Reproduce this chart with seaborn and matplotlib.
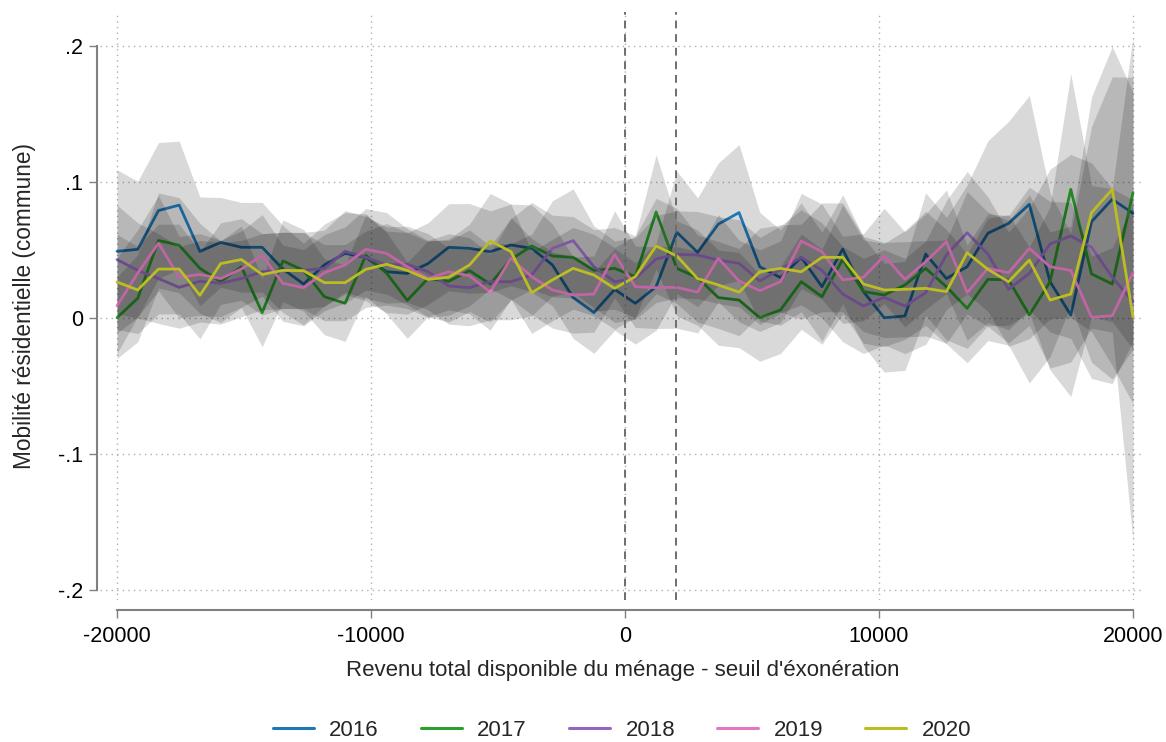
import numpy as np
import pandas as pd
import matplotlib
matplotlib.use("Agg")
import matplotlib.pyplot as plt
import seaborn as sns
from matplotlib.lines import Line2D

# ---------------- data ----------------
x_min, x_max, n_bins = -20000, 20000, 50
years = ["2016", "2017", "2018", "2019", "2020"]
colors = ["#1f77b4", "#2ca02c", "#9467bd", "#e377c2", "#bcbd22"]

y2016 = [0.049, 0.0505, 0.079, 0.083, 0.049, 0.0556, 0.052, 0.052, 0.036, 0.025,
         0.039, 0.0475, 0.0446, 0.034, 0.0328, 0.040, 0.052, 0.0512, 0.0488, 0.0537,
         0.0512, 0.039, 0.015, 0.004, 0.021, 0.0108, 0.023, 0.063, 0.0483, 0.069,
         0.0775, 0.0377, 0.0297, 0.0446, 0.023, 0.0507, 0.0194, 0.0002, 0.0015, 0.047,
         0.029, 0.0377, 0.0623, 0.0696, 0.0836, 0.0267, 0.0022, 0.0708, 0.0873, 0.077]
y2017 = [0.0002, 0.0145, 0.057, 0.0535, 0.0365, 0.0267, 0.0377, 0.0039, 0.042, 0.035,
         0.0157, 0.0108, 0.046, 0.033, 0.013, 0.029, 0.027, 0.0348, 0.025, 0.0431,
         0.053, 0.0456, 0.0446, 0.035, 0.0365, 0.0304, 0.078, 0.0365, 0.0297, 0.015,
         0.0132, 0.0002, 0.0059, 0.0267, 0.0157, 0.0431, 0.0194, 0.0169, 0.0243, 0.0365,
         0.023, 0.0071, 0.0284, 0.028, 0.0022, 0.0267, 0.0946, 0.0324, 0.025, 0.0922]
y2018 = [0.043, 0.035, 0.029, 0.0225, 0.027, 0.0255, 0.029, 0.034, 0.035, 0.035,
         0.0365, 0.049, 0.0446, 0.039, 0.0395, 0.034, 0.0235, 0.0223, 0.0267, 0.0267,
         0.0316, 0.0512, 0.0569, 0.0377, 0.0267, 0.029, 0.0434, 0.0468, 0.0463, 0.0426,
         0.0402, 0.0272, 0.0358, 0.0446, 0.035, 0.0176, 0.0088, 0.0152, 0.0088, 0.0186,
         0.0463, 0.0627, 0.047, 0.0211, 0.0328, 0.0544, 0.0603, 0.052, 0.030, 0.012]
y2019 = [0.009, 0.033, 0.055, 0.030, 0.032, 0.029, 0.036, 0.046, 0.0255, 0.0223,
         0.0333, 0.039, 0.0505, 0.0475, 0.0377, 0.029, 0.034, 0.031, 0.019, 0.0439,
         0.0304, 0.0206, 0.0169, 0.0176, 0.0468, 0.023, 0.0223, 0.0225, 0.019, 0.0439,
         0.0272, 0.0201, 0.0267, 0.0566, 0.0488, 0.028, 0.030, 0.0456, 0.0284, 0.0414,
         0.0561, 0.0186, 0.0365, 0.0333, 0.0512, 0.0377, 0.035, 0.0005, 0.0017, 0.0333]
y2020 = [0.0265, 0.0206, 0.036, 0.036, 0.0167, 0.040, 0.043, 0.032, 0.035, 0.0348,
         0.026, 0.026, 0.0358, 0.0395, 0.035, 0.0284, 0.030, 0.039, 0.0566, 0.0488,
         0.0186, 0.028, 0.0365, 0.0316, 0.0218, 0.0304, 0.053, 0.0456, 0.029, 0.0243,
         0.019, 0.034, 0.0365, 0.034, 0.0446, 0.0446, 0.025, 0.0206, 0.0211, 0.0218,
         0.0194, 0.048, 0.0358, 0.0267, 0.0426, 0.0132, 0.0176, 0.0775, 0.0946, 0.001]

# half-widths of the 95% confidence intervals
hw2016 = [0.060, 0.050, 0.050, 0.047, 0.040, 0.033, 0.033, 0.033, 0.032, 0.030,
          0.030, 0.030, 0.032, 0.030, 0.030, 0.030, 0.032, 0.033, 0.030, 0.030,
          0.032, 0.030, 0.030, 0.030, 0.030, 0.030, 0.032, 0.045, 0.040, 0.045,
          0.050, 0.040, 0.035, 0.040, 0.040, 0.040, 0.040, 0.040, 0.040, 0.045,
          0.045, 0.060, 0.068, 0.075, 0.080, 0.065, 0.060, 0.070, 0.090, 0.100]
hw2017 = [0.030, 0.032, 0.035, 0.035, 0.033, 0.030, 0.030, 0.025, 0.030, 0.030,
          0.028, 0.028, 0.030, 0.030, 0.028, 0.028, 0.030, 0.030, 0.028, 0.030,
          0.032, 0.030, 0.030, 0.030, 0.030, 0.030, 0.042, 0.035, 0.035, 0.035,
          0.035, 0.032, 0.032, 0.035, 0.035, 0.040, 0.038, 0.038, 0.040, 0.042,
          0.042, 0.040, 0.045, 0.048, 0.050, 0.055, 0.085, 0.065, 0.070, 0.115]
hw2018 = [0.040, 0.035, 0.033, 0.030, 0.030, 0.030, 0.028, 0.028, 0.028, 0.028,
          0.028, 0.030, 0.030, 0.028, 0.028, 0.028, 0.028, 0.028, 0.028, 0.028,
          0.030, 0.035, 0.038, 0.030, 0.030, 0.030, 0.032, 0.032, 0.032, 0.032,
          0.032, 0.032, 0.032, 0.035, 0.035, 0.035, 0.035, 0.035, 0.035, 0.038,
          0.040, 0.045, 0.042, 0.042, 0.048, 0.055, 0.060, 0.062, 0.065, 0.075]
hw2019 = [0.035, 0.032, 0.035, 0.030, 0.030, 0.028, 0.028, 0.030, 0.028, 0.028,
          0.028, 0.028, 0.030, 0.030, 0.028, 0.028, 0.028, 0.028, 0.028, 0.030,
          0.028, 0.028, 0.028, 0.028, 0.032, 0.030, 0.030, 0.030, 0.030, 0.032,
          0.030, 0.030, 0.030, 0.035, 0.035, 0.032, 0.032, 0.035, 0.035, 0.035,
          0.038, 0.035, 0.040, 0.042, 0.045, 0.048, 0.050, 0.045, 0.050, 0.050]
hw2020 = [0.035, 0.032, 0.033, 0.033, 0.032, 0.030, 0.030, 0.030, 0.028, 0.028,
          0.028, 0.028, 0.028, 0.030, 0.028, 0.028, 0.028, 0.030, 0.035, 0.035,
          0.030, 0.030, 0.030, 0.030, 0.030, 0.030, 0.035, 0.035, 0.032, 0.032,
          0.032, 0.032, 0.032, 0.035, 0.040, 0.040, 0.035, 0.035, 0.035, 0.035,
          0.038, 0.045, 0.042, 0.045, 0.048, 0.050, 0.050, 0.085, 0.105, 0.165]

cutoffs = [0, 2000]
xticks = [-20000, -10000, 0, 10000, 20000]
yticks = [-0.2, -0.1, 0, 0.1, 0.2]
ytick_labels = ["-.2", "-.1", "0", ".1", ".2"]
xlabel = "Revenu total disponible du ménage - seuil d'éxonération"
ylabel = "Mobilité résidentielle (commune)"

# ---------------- build table ----------------
xs = np.linspace(x_min, x_max, n_bins)
series = [y2016, y2017, y2018, y2019, y2020]
hws = [hw2016, hw2017, hw2018, hw2019, hw2020]
rows = []
for yr, ys, hw in zip(years, series, hws):
    for xv, yv, h in zip(xs, ys, hw):
        rows.append({"x": xv, "y": yv, "lo": yv - h, "hi": yv + h, "year": yr})
df = pd.DataFrame(rows)

# ---------------- plot ----------------
sns.set_theme(style="white")
plt.rcParams["font.family"] = ["Liberation Sans", "DejaVu Sans"]

W, H = 1166, 742
fig = plt.figure(figsize=(W / 100, H / 100), dpi=100)
L, R, T, B = 100, 1145, 12, 600
ax = fig.add_axes([L / W, 1 - B / H, (R - L) / W, (B - T) / H])

sx = (1133 - 117) / 40000.0
ax.set_xlim(-20000 - (117 - L) / sx, 20000 + (R - 1133) / sx)
sy = 1360.0
ax.set_ylim(-(B - 318) / sy, (318 - T) / sy)

# grid (dotted)
for yv in yticks:
    ax.axhline(yv, color="#b0b0b0", lw=1.0, ls=(0, (1, 3)), zorder=0)
for xv in xticks:
    ax.axvline(xv, color="#b0b0b0", lw=1.0, ls=(0, (1, 3)), zorder=0)

z = 2
for yr, col in zip(years, colors):
    d = df[df["year"] == yr]
    ax.fill_between(d["x"], d["lo"], d["hi"], color="black", alpha=0.15,
                    lw=0, zorder=z)
    sns.lineplot(data=d, x="x", y="y", color=col, lw=2.0, ax=ax,
                 legend=False, zorder=z + 1, errorbar=None)
    z += 2

for c in cutoffs:
    ax.axvline(c, color="#6e6e6e", lw=1.4, ls=(0, (4, 3)), zorder=20)

# spines
for s in ["top", "right"]:
    ax.spines[s].set_visible(False)
ax.spines["left"].set_bounds(-0.2, 0.2)
ax.spines["left"].set_position(("outward", 2))
ax.spines["bottom"].set_bounds(-20000, 20000)
ax.spines["bottom"].set_position(("outward", 7))
for s in ["left", "bottom"]:
    ax.spines[s].set_color("#808080")
    ax.spines[s].set_linewidth(1.5)

ax.set_xticks(xticks)
ax.set_xticklabels([str(v) for v in xticks])
ax.set_yticks(yticks)
ax.set_yticklabels(ytick_labels)
ax.tick_params(axis="both", which="major", length=6, width=1.0, color="#808080",
               labelsize=15.5, labelcolor="black", direction="out",
               bottom=True, left=True)
ax.tick_params(axis="x", pad=6)
ax.tick_params(axis="y", pad=4)

ax.set_xlabel(xlabel, fontsize=16.0, labelpad=9)
ax.set_ylabel(ylabel, fontsize=16.3, labelpad=16)

handles = [Line2D([0], [0], color=c, lw=2.2) for c in colors]
fig.legend(handles, years, loc="center", ncol=5, frameon=False,
           fontsize=16, handlelength=1.85, handletextpad=0.68,
           columnspacing=1.9, bbox_to_anchor=(622 / W, 11.5 / H))

fig.savefig("out.png", dpi=100)
